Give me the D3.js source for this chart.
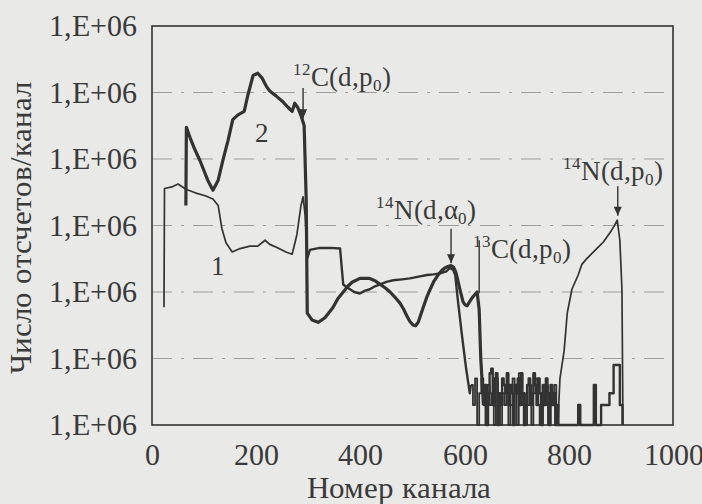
<!DOCTYPE html>
<html><head><meta charset="utf-8">
<script src="https://cdn.jsdelivr.net/npm/d3@7"></script>
<style>
@font-face{font-family:"ChartSerif";src:local("Liberation Serif"),local("LiberationSerif"),local("LiberationSerif-Regular"),local("Liberation Serif Regular");}
body{margin:0;background:#e9e9e7;} svg{display:block;}
#chart text{font-family:"ChartSerif","Liberation Serif","Times New Roman",serif !important;}
</style></head>
<body><svg id="chart" width="702" height="504"></svg>
<script>
// ---- data ----
const xTicks = [0, 200, 400, 600, 800, 1000];
const yTickValues = [1, 10, 100, 1000, 10000, 100000, 1000000];
const yTickLabels = ["1,E+06","1,E+06","1,E+06","1,E+06","1,E+06","1,E+06","1,E+06"];
const xTitle = "Номер канала";
const yTitle = "Число отсчетов/канал";

// curve 1: thin part, then noisier part [channel, counts]
const curve1a = [[23,59],[24,3600],[38,3800],[50,4200],[65,3500],[83,3100],[102,2800],[117,2500],[127,2000],
 [134,910],[142,550],[154,400],[169,450],[188,490],[203,490],[217,600],[226,520],[242,460],[257,400],[269,370],
 [278,720],[286,2000],[290,2700],[294,1400],[298,320]];
const curve1m = [[298,320],[303,430],[322,460],[342,460],[361,450],[367,130],
 [374,118],[380,110],[388,100],[399,95],[408,104],[418,110],[428,122],[438,130],[450,142],[463,150],[480,155],[495,160],
 [512,170],[528,180],[540,184],[553,190],[565,205],[572,230],[578,215],[582,180],[587,76],[595,22],[603,7],[610,3],[612,4]];
const noise1 = [[612,4],[616,2],[620,5],[624,1],[628,3],[632,5],[636,2],[640,1],[644,4],[648,2],[652,3],[656,1],
 [660,5],[664,2],[668,1],[672,3],[676,2],[680,4],[684,1],[688,2],[692,5],[696,3],[700,1],[704,6],[708,2],[712,3],
 [716,1],[720,2],[724,4],[728,1],[732,3],[736,5],[740,2],[744,1],[748,3],[752,2],[756,4],[760,1],[764,3],[768,2],
 [772,4],[776,1],[779,1]];
const curve1b = [[779,1],[783,5],[791,13],[797,48],[806,110],[818,180],[825,260],[835,320],[846,390],[856,470],
 [866,560],[879,780],[887,980],[893,1200],[898,600],[902,110],[904,1]];

// curve 2 (thick)
const curve2 = [[65,2000],[66,30000],[73,21000],[82,14000],[92,9500],[107,4800],[117,3400],[127,4800],[136,9500],
 [146,19000],[155,39000],[165,46000],[177,52000],[184,91000],[194,180000],[203,195000],[211,166000],[219,126000],
 [226,105000],[238,89000],[250,74000],[261,60000],[269,52000],[274,69000],[280,59000],[286,45000],[292,32000],
 [296,2400],[298,48],[307,38],[319,35],[332,41],[347,58],[357,80],[367,100],[376,122],[384,140],[399,160],
 [418,160],[428,148],[438,130],[448,115],[457,100],[466,84],[476,68],[483,55],[489,44],[495,36],[501,32],[506,31],
 [511,35],[516,46],[522,63],[528,86],[534,110],[541,145],[549,180],[556,210],[562,230],[568,242],[574,250],
 [579,235],[583,200],[587,150],[591,110],[597,71],[601,64],[605,62],[609,70],[614,81],[619,90],[624,100],
 [628,54],[631,10],[635,3],[636,2]];
const noise2 = [[636,2],[639,4],[642,1],[645,3],[648,6],[651,7],[654,2],[657,5],[660,6],[663,1],[666,3],[669,2],
 [672,5],[675,4],[678,3],[681,6],[684,2],[687,4],[690,3],[693,1],[696,4],[699,3],[702,5],[705,2],[708,6],[711,3],
 [714,1],[717,2],[720,4],[723,5],[726,2],[729,3],[732,6],[735,4],[738,2],[741,5],[744,3],[747,1],[750,4],[753,2],
 [756,5],[759,3],[762,1],[765,4],[768,2],[771,3],[774,1],[777,2],[780,1],[818,2],[822,1],[848,4],[852,1],
 [862,2],[878,3],[886,8],[898,2],[903,1]];

// annotations: label anchor (channel, counts) and arrow (channel, from, to)
const annotations = [
 {sup:"12", main:"C(d,p", sub:"0", tail:")", ch:271, count:125000, arrowCh:290, from:117000, to:41000, head:true},
 {sup:"14", main:"N(d,α", sub:"0", tail:")", ch:430, count:1250, arrowCh:574, from:890, to:270, head:true},
 {sup:"13", main:"C(d,p", sub:"0", tail:")", ch:616, count:325, arrowCh:628, from:600, to:96, head:false},
 {sup:"14", main:"N(d,p", sub:"0", tail:")", ch:789, count:4800, arrowCh:894, from:3900, to:1400, head:true}
];
const curveLabels = [{text:"1", ch:127, count:180},{text:"2", ch:211, count:18000}];

// ---- drawing ----
const TXT = "#3a3a3a";
function serif(sel, size){
  return sel.attr("font-family","Liberation Serif").style("font-size", size + "px").style("fill", TXT);
}
const svg = d3.select("#chart");
const x = d3.scaleLinear().domain([0,1000]).range([152,673]);
const y = d3.scaleLog().domain([1,1e6]).range([425,26]);
const ink = "#333";

svg.append("rect").attr("width",702).attr("height",504).attr("fill","#e9e9e7");

// gridlines
svg.append("g").selectAll("line").data(yTickValues.slice(1,-1)).join("line")
  .attr("x1",x(0)).attr("x2",x(1000)).attr("y1",d=>y(d)).attr("y2",d=>y(d))
  .attr("stroke","#777").attr("stroke-width",1.1).attr("stroke-dasharray","20 9 3 9").attr("opacity",0.65);

// axes
const xa = svg.append("g").attr("transform",`translate(0,${y(1)})`)
  .call(d3.axisBottom(x).tickValues(xTicks).tickSize(0).tickPadding(19).tickFormat(d=>String(d)));
const ya = svg.append("g").attr("transform",`translate(${x(0)},0)`)
  .call(d3.axisLeft(y).tickValues(yTickValues).tickSize(0).tickPadding(15).tickFormat((d,i)=>yTickLabels[i]));
[xa,ya].forEach(g=>{g.select(".domain").remove(); g.attr("font-family",null).attr("font-size",null);
  serif(g.selectAll("text"), 30);});

// frame
svg.append("rect").attr("x",x(0)).attr("y",y(1e6)).attr("width",x(1000)-x(0)).attr("height",y(1)-y(1e6))
  .attr("fill","none").attr("stroke",ink).attr("stroke-width",1.6);

// curves
const line = d3.line().x(d=>x(d[0])).y(d=>y(d[1]));
const step = d3.line().x(d=>x(d[0])).y(d=>y(d[1])).curve(d3.curveStepAfter);
const pathG = svg.append("g").attr("fill","none").attr("stroke",ink).attr("stroke-linejoin","round");
pathG.append("path").attr("d",step(noise2)).attr("stroke-width",2.4);
pathG.append("path").attr("d",step(noise1)).attr("stroke-width",1.8);
pathG.append("path").attr("d",line(curve1a)).attr("stroke-width",1.7);
pathG.append("path").attr("d",line(curve1m)).attr("stroke-width",2.4);
pathG.append("path").attr("d",line(curve1b)).attr("stroke-width",1.7);
pathG.append("path").attr("d",line(curve2)).attr("stroke-width",3.2);

// annotations
const ann = svg.append("g");
annotations.forEach(a=>{
  ann.append("line").attr("x1",x(a.arrowCh)).attr("x2",x(a.arrowCh))
    .attr("y1",y(a.from)).attr("y2",y(a.to)).attr("stroke",ink).attr("stroke-width",1.4);
  if(a.head){ ann.append("path")
     .attr("d",`M${x(a.arrowCh)-4},${y(a.to)-9} L${x(a.arrowCh)},${y(a.to)} L${x(a.arrowCh)+4},${y(a.to)-9} Z`).attr("fill",ink); }
  const t = serif(ann.append("text").attr("x",x(a.ch)).attr("y",y(a.count)), 27);
  t.append("tspan").text(a.sup).style("font-size","17px").attr("dy",-11);
  t.append("tspan").text(a.main).attr("dy",11);
  t.append("tspan").text(a.sub).style("font-size","17px").attr("dy",5);
  t.append("tspan").text(a.tail).attr("dy",-5);
});
curveLabels.forEach(c=>{
  serif(ann.append("text").attr("x",x(c.ch)).attr("y",y(c.count)).attr("text-anchor","middle"), 27).text(c.text);
});

// titles
serif(svg.append("text").attr("x",399).attr("y",498).attr("text-anchor","middle"), 31).text(xTitle);
serif(svg.append("text").attr("transform","translate(31,228) rotate(-90)").attr("text-anchor","middle"), 31).text(yTitle);
</script></body></html>
